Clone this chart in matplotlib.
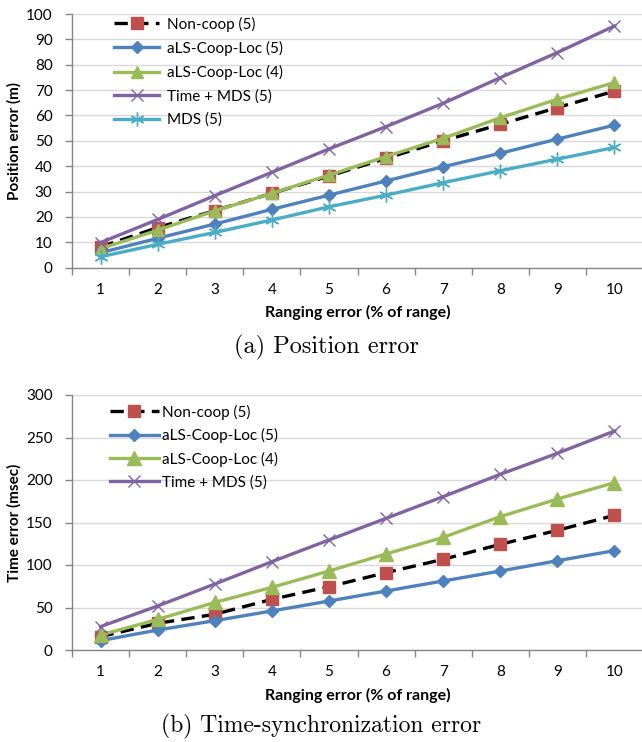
import numpy as np
import matplotlib
matplotlib.use("Agg")
import matplotlib.pyplot as plt

# ranging error categories
x_labels = ["1", "2", "3", "4", "5", "6", "7", "8", "9", "10"]

# (a) position error (m)
pos_noncoop = [8.2, 15.8, 22.5, 29.3, 36.1, 43.1, 50.0, 56.5, 63.1, 69.6]
pos_als5 = [5.9, 11.6, 17.2, 23.0, 28.6, 34.2, 39.8, 45.1, 50.7, 56.2]
pos_als4 = [7.5, 14.8, 22.4, 29.3, 36.5, 43.8, 51.0, 59.1, 66.4, 73.0]
pos_time_mds = [9.9, 19.0, 28.4, 37.6, 46.8, 55.6, 64.8, 74.9, 84.8, 95.3]
pos_mds = [4.3, 9.2, 13.9, 18.8, 24.0, 28.6, 33.5, 38.2, 42.8, 47.4]

# (b) time-synchronization error (msec)
time_noncoop = [15.7, 31.4, 42.0, 59.6, 74.5, 91.0, 106.7, 124.3, 140.8, 158.4]
time_als5 = [11.0, 23.5, 34.5, 45.9, 57.6, 69.4, 81.2, 92.9, 105.0, 116.9]
time_als4 = [17.6, 36.0, 56.0, 73.7, 92.9, 113.0, 132.5, 156.9, 177.6, 196.9]
time_time_mds = [27.5, 51.8, 77.6, 103.9, 129.4, 154.9, 180.4, 206.7, 231.4, 257.6]

BLUE = "#4F81BD"
RED = "#C0504D"
GREEN = "#9BBB59"
PURPLE = "#8064A2"
CYAN = "#4BACC6"
GRID = "#D9D9D9"
AXIS = "#868686"

TICK_FONT = "Lato"
CAP_FONT = "cmr10"

fig = plt.figure(figsize=(6.42, 7.42), dpi=100)
W, H = 642.0, 742.0


def px_axes(left, top, right, bottom):
    return fig.add_axes([left / W, 1 - bottom / H, (right - left) / W, (bottom - top) / H])


def style_axes(ax, ymax, ystep, ylabel):
    n = len(x_labels)
    ax.set_xlim(0.5, n + 0.5)
    ax.set_ylim(0, ymax)
    ax.set_xticks(np.arange(1, n + 1))
    ax.set_xticklabels(x_labels, fontfamily=TICK_FONT, fontsize=11)
    ax.set_xticks(np.arange(0.5, n + 1), minor=True)
    ax.tick_params(axis="x", which="major", length=0, pad=11)
    ax.tick_params(axis="x", which="minor", length=5, color=AXIS, width=1)
    yt = np.arange(0, ymax + 1, ystep)
    ax.set_yticks(yt)
    ax.set_yticklabels([str(int(v)) for v in yt], fontfamily=TICK_FONT, fontsize=11)
    ax.tick_params(axis="y", length=5, color=AXIS, width=1, pad=9)
    ax.grid(axis="y", color=GRID, linewidth=1)
    ax.set_axisbelow(True)
    for s in ["top", "right"]:
        ax.spines[s].set_visible(False)
    for s in ["left", "bottom"]:
        ax.spines[s].set_color(AXIS)
        ax.spines[s].set_linewidth(1)
    ax.set_ylabel(ylabel, fontfamily=TICK_FONT, fontweight="bold", fontsize=11)
    ax.yaxis.set_label_coords(-0.089, 0.5)
    ax.set_xlabel("Ranging error (% of range)", fontfamily=TICK_FONT, fontweight="bold",
                  fontsize=11.5, labelpad=6)


def draw_series(ax, xs, series):
    for vals, label, lc, mk, mc, ms, extra in series:
        ax.plot(xs, vals, color=lc, linewidth=2.4, marker=mk, markersize=ms,
                markerfacecolor=mc, markeredgecolor=mc, label=label, **extra)


xs = np.arange(1, len(x_labels) + 1)
dash = {"dashes": (4, 2.2)}

# ---- (a) Position error
ax1 = px_axes(72, 14, 643, 267.7)
draw_series(ax1, xs, [
    (pos_noncoop, "Non-coop (5)", "black", "s", RED, 8, dash),
    (pos_als5, "aLS-Coop-Loc (5)", BLUE, "D", BLUE, 6, {}),
    (pos_als4, "aLS-Coop-Loc (4)", GREEN, "^", GREEN, 9, {}),
    (pos_time_mds, "Time + MDS (5)", PURPLE, "x", PURPLE, 9, {"markeredgewidth": 1}),
    (pos_mds, "MDS (5)", CYAN, (6, 2, 0), CYAN, 10, {"markeredgewidth": 1}),
])
style_axes(ax1, 100, 10, "Position error (m)")
ax1.legend(loc="upper left", bbox_to_anchor=(0.0736, 0.99), frameon=False,
           borderpad=0, borderaxespad=0, handlelength=2.95, handletextpad=0.5,
           labelspacing=0.6, prop={"family": TICK_FONT, "size": 11})

# ---- (b) Time-synchronization error
ax2 = px_axes(72, 395, 643, 650)
draw_series(ax2, xs, [
    (time_noncoop, "Non-coop (5)", "black", "s", RED, 9, dash),
    (time_als5, "aLS-Coop-Loc (5)", BLUE, "D", BLUE, 6.5, {}),
    (time_als4, "aLS-Coop-Loc (4)", GREEN, "^", GREEN, 9.5, {}),
    (time_time_mds, "Time + MDS (5)", PURPLE, "x", PURPLE, 9, {"markeredgewidth": 1}),
])
style_axes(ax2, 300, 50, "Time error (msec)")
ax2.legend(loc="upper left", bbox_to_anchor=(0.0666, 0.962), frameon=False,
           borderpad=0, borderaxespad=0, handlelength=3.2, handletextpad=0.2,
           labelspacing=0.55, prop={"family": TICK_FONT, "size": 11})

fig.text(326 / W, 1 - 347 / H, "(a) Position error", fontfamily=CAP_FONT,
         fontsize=17.5, ha="center", va="center")
fig.text(321 / W, 1 - 726 / H, "(b) Time-synchronization error", fontfamily=CAP_FONT,
         fontsize=17, ha="center", va="center")

fig.savefig("out.png", dpi=100)
